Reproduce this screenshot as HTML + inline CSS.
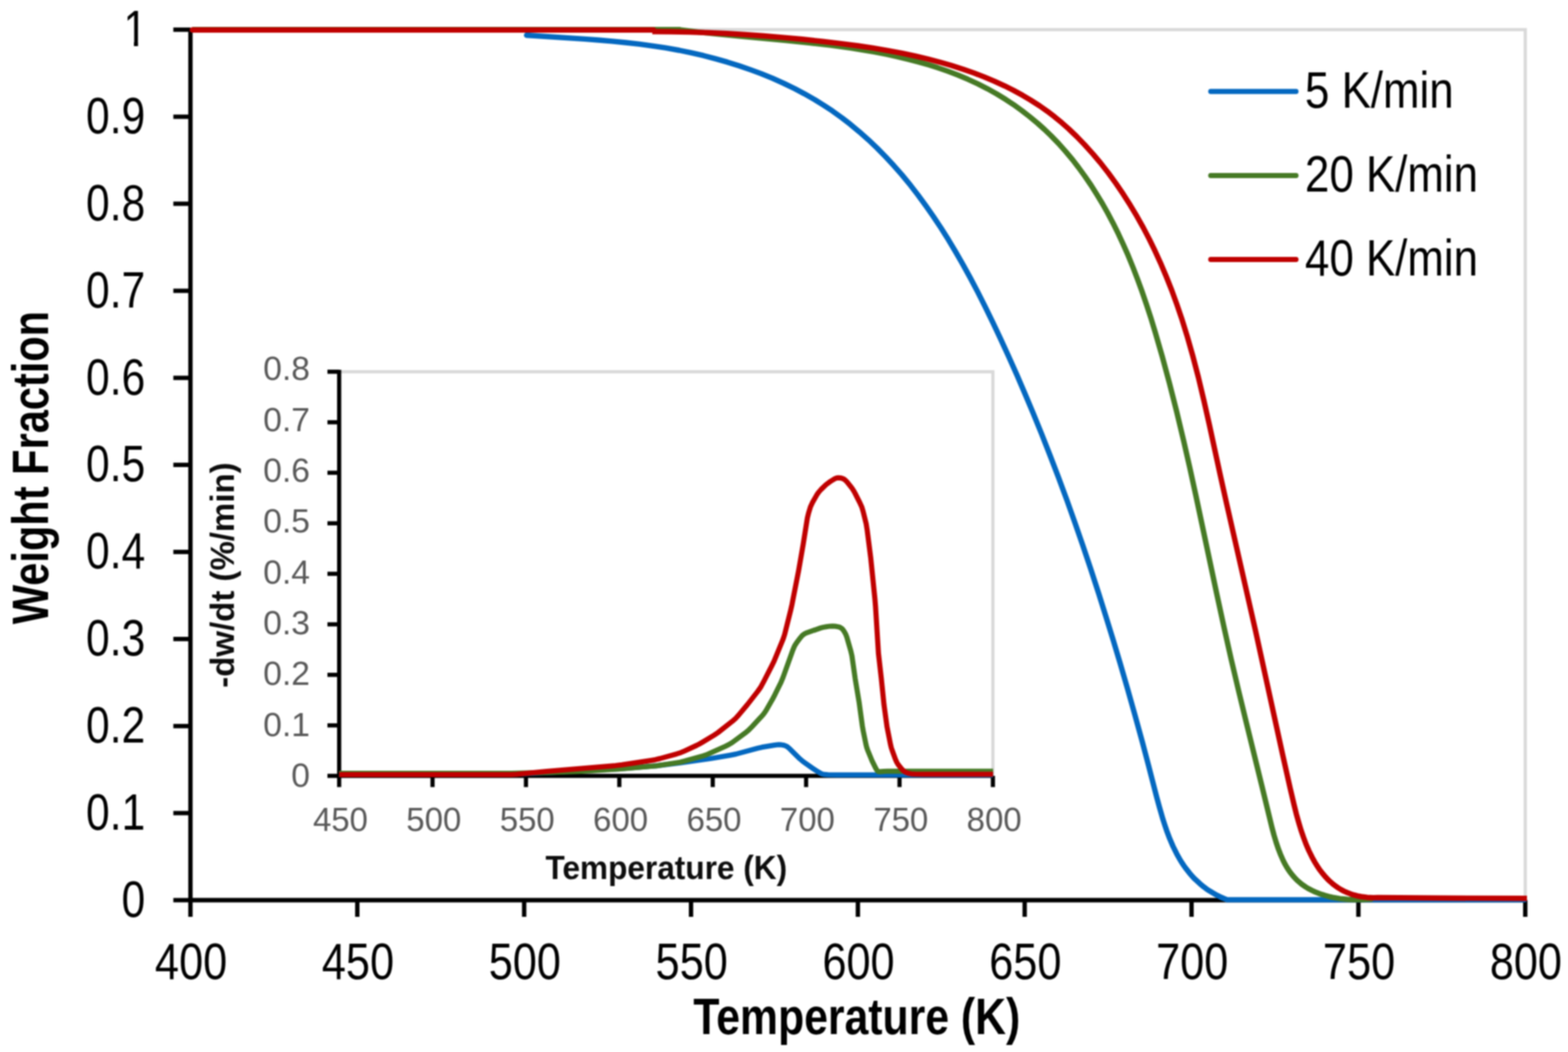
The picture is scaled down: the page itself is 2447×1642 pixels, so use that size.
<!DOCTYPE html>
<html><head><meta charset="utf-8"><title>Weight Fraction vs Temperature</title>
<style>
html,body{margin:0;padding:0;background:#fff;}
body{width:2447px;height:1642px;overflow:hidden;}
svg{display:block;filter:blur(0.8px);}
.m{font-family:"Liberation Sans",Arial,sans-serif;font-size:79px;fill:#000;}
.lg{font-family:"Liberation Sans",Arial,sans-serif;font-size:80.5px;fill:#000;}
.mb{font-family:"Liberation Sans",Arial,sans-serif;font-size:80px;font-weight:bold;fill:#000;}
.i{font-family:"Liberation Sans",Arial,sans-serif;font-size:52.5px;fill:#595959;}
.ib{font-family:"Liberation Sans",Arial,sans-serif;font-size:51px;font-weight:bold;fill:#0d0d0d;}
</style></head>
<body>
<svg xmlns="http://www.w3.org/2000/svg" width="2447" height="1642" viewBox="0 0 2447 1642">
<rect width="2447" height="1642" fill="#fff"/>
<path d="M297.2,46.3 H2380.3 V1405.0" fill="none" stroke="#D9D9D9" stroke-width="5"/>
<path d="M297.2,49.3 V1405.0" stroke="#000" stroke-width="6.8" fill="none"/>
<path d="M294.2,1405.0 H2380.3" stroke="#000" stroke-width="6.8" fill="none"/>
<path d="M270.5,1405.0 H297.2" stroke="#000" stroke-width="6.8"/>
<path d="M270.5,1269.1 H297.2" stroke="#000" stroke-width="6.8"/>
<path d="M270.5,1133.3 H297.2" stroke="#000" stroke-width="6.8"/>
<path d="M270.5,997.4 H297.2" stroke="#000" stroke-width="6.8"/>
<path d="M270.5,861.5 H297.2" stroke="#000" stroke-width="6.8"/>
<path d="M270.5,725.6 H297.2" stroke="#000" stroke-width="6.8"/>
<path d="M270.5,589.8 H297.2" stroke="#000" stroke-width="6.8"/>
<path d="M270.5,453.9 H297.2" stroke="#000" stroke-width="6.8"/>
<path d="M270.5,318.0 H297.2" stroke="#000" stroke-width="6.8"/>
<path d="M270.5,182.2 H297.2" stroke="#000" stroke-width="6.8"/>
<path d="M270.5,46.3 H297.2" stroke="#000" stroke-width="6.8"/>
<path d="M297.2,1405.0 V1431" stroke="#000" stroke-width="6.8"/>
<path d="M557.6,1405.0 V1431" stroke="#000" stroke-width="6.8"/>
<path d="M818.0,1405.0 V1431" stroke="#000" stroke-width="6.8"/>
<path d="M1078.4,1405.0 V1431" stroke="#000" stroke-width="6.8"/>
<path d="M1338.8,1405.0 V1431" stroke="#000" stroke-width="6.8"/>
<path d="M1599.1,1405.0 V1431" stroke="#000" stroke-width="6.8"/>
<path d="M1859.5,1405.0 V1431" stroke="#000" stroke-width="6.8"/>
<path d="M2119.9,1405.0 V1431" stroke="#000" stroke-width="6.8"/>
<path d="M2380.3,1405.0 V1431" stroke="#000" stroke-width="6.8"/>
<text transform="translate(226.6,1430.7) scale(0.84,1)" text-anchor="end" class="m">0</text>
<text transform="translate(226.6,1294.8) scale(0.84,1)" text-anchor="end" class="m">0.1</text>
<text transform="translate(226.6,1159.0) scale(0.84,1)" text-anchor="end" class="m">0.2</text>
<text transform="translate(226.6,1023.1) scale(0.84,1)" text-anchor="end" class="m">0.3</text>
<text transform="translate(226.6,887.2) scale(0.84,1)" text-anchor="end" class="m">0.4</text>
<text transform="translate(226.6,751.4) scale(0.84,1)" text-anchor="end" class="m">0.5</text>
<text transform="translate(226.6,615.5) scale(0.84,1)" text-anchor="end" class="m">0.6</text>
<text transform="translate(226.6,479.6) scale(0.84,1)" text-anchor="end" class="m">0.7</text>
<text transform="translate(226.6,343.7) scale(0.84,1)" text-anchor="end" class="m">0.8</text>
<text transform="translate(226.6,207.9) scale(0.84,1)" text-anchor="end" class="m">0.9</text>
<clipPath id="c1"><rect x="150" y="0" width="100" height="65.4"/><rect x="209.0" y="62.0" width="6.4" height="20"/></clipPath>
<g clip-path="url(#c1)"><text transform="translate(229.6,72.0) scale(0.84,1)" text-anchor="end" class="m">1</text></g>
<text transform="translate(298.2,1528.1) scale(0.855,1)" text-anchor="middle" class="m">400</text>
<text transform="translate(558.6,1528.1) scale(0.855,1)" text-anchor="middle" class="m">450</text>
<text transform="translate(819.0,1528.1) scale(0.855,1)" text-anchor="middle" class="m">500</text>
<text transform="translate(1079.4,1528.1) scale(0.855,1)" text-anchor="middle" class="m">550</text>
<text transform="translate(1339.8,1528.1) scale(0.855,1)" text-anchor="middle" class="m">600</text>
<text transform="translate(1600.1,1528.1) scale(0.855,1)" text-anchor="middle" class="m">650</text>
<text transform="translate(1860.5,1528.1) scale(0.855,1)" text-anchor="middle" class="m">700</text>
<text transform="translate(2120.9,1528.1) scale(0.855,1)" text-anchor="middle" class="m">750</text>
<text transform="translate(2381.3,1528.1) scale(0.855,1)" text-anchor="middle" class="m">800</text>
<text transform="translate(1337.1,1613.5) scale(0.834,1)" text-anchor="middle" class="mb">Temperature (K)</text>
<text transform="translate(75.1,729.8) rotate(-90) scale(0.811,1)" text-anchor="middle" class="mb">Weight Fraction</text>
<path d="M1889.5,142.8 H2022.5" stroke="#0468C0" stroke-width="8" stroke-linecap="round"/>
<text transform="translate(2036.6,167.5) scale(0.85,1)" class="lg">5 K/min</text>
<path d="M1889.5,274.0 H2022.5" stroke="#467A25" stroke-width="8" stroke-linecap="round"/>
<text transform="translate(2036.6,298.5) scale(0.85,1)" class="lg">20 K/min</text>
<path d="M1889.5,405.0 H2022.5" stroke="#C00000" stroke-width="8" stroke-linecap="round"/>
<text transform="translate(2036.6,429.5) scale(0.85,1)" class="lg">40 K/min</text>
<path d="M821.8,55.0 L912.0,60.9 L933.6,62.5 L955.2,64.4 L976.7,66.5 L998.1,68.9 L1019.6,71.8 L1038.4,74.7 L1059.9,78.5 L1078.7,82.4 L1097.6,86.7 L1116.3,91.6 L1135.0,96.9 L1153.6,102.7 L1172.0,109.1 L1187.6,114.9 L1205.5,122.2 L1223.2,130.1 L1240.5,138.5 L1255.0,146.2 L1271.6,155.6 L1285.4,164.2 L1298.9,173.1 L1314.2,184.1 L1326.9,193.9 L1341.3,205.9 L1355.3,218.3 L1368.9,231.2 L1382.0,244.6 L1394.8,258.4 L1407.2,272.5 L1420.9,289.2 L1432.5,304.2 L1445.3,321.7 L1456.2,337.3 L1468.3,355.5 L1480.0,374.1 L1491.3,393.0 L1502.3,412.1 L1514.3,433.9 L1525.9,455.9 L1537.1,478.2 L1549.3,503.1 L1561.1,528.1 L1573.8,555.7 L1587.2,585.8 L1599.1,613.5 L1611.8,643.7 L1625.2,676.5 L1639.1,711.9 L1651.7,744.8 L1664.9,780.4 L1677.6,816.1 L1690.0,851.9 L1702.1,887.9 L1714.7,926.6 L1726.1,962.9 L1737.3,999.3 L1748.3,1036.0 L1759.0,1072.8 L1770.9,1115.1 L1782.6,1157.7 L1791.8,1192.5 L1805.0,1243.7 L1809.4,1259.8 L1814.7,1278.3 L1818.1,1288.7 L1820.7,1296.4 L1825.4,1308.9 L1830.6,1321.0 L1836.4,1332.7 L1840.2,1339.5 L1842.8,1344.0 L1847.0,1350.4 L1850.0,1354.6 L1856.3,1362.7 L1861.3,1368.5 L1864.9,1372.2 L1872.5,1379.2 L1878.5,1384.2 L1882.8,1387.4 L1887.3,1390.4 L1891.9,1393.2 L1899.1,1397.3 L1904.2,1399.8 L1909.5,1402.2 L1915.0,1404.4 L2379.0,1404.3" fill="none" stroke="#0468C0" stroke-width="8.4" stroke-linejoin="round" stroke-linecap="round"/>
<path d="M300.2,46.3 H1062" stroke="#467A25" stroke-width="8.4" fill="none"/>
<path d="M1060.0,46.3 L1088.2,49.8 L1122.1,53.4 L1153.0,56.4 L1226.0,63.1 L1262.5,66.8 L1296.3,70.7 L1327.3,74.9 L1347.0,78.0 L1363.8,80.9 L1383.4,84.7 L1400.2,88.3 L1416.8,92.3 L1433.3,96.6 L1449.6,101.3 L1463.1,105.6 L1479.1,111.1 L1494.9,117.1 L1510.4,123.7 L1525.7,130.7 L1540.8,138.4 L1555.5,146.6 L1569.8,155.4 L1581.6,163.2 L1595.3,173.1 L1606.4,181.7 L1619.4,192.5 L1630.0,202.0 L1640.1,211.8 L1652.0,224.0 L1663.3,236.7 L1674.2,249.8 L1682.9,261.1 L1692.9,274.9 L1702.6,289.0 L1711.7,303.4 L1720.5,318.0 L1728.8,332.8 L1736.7,347.7 L1745.5,365.4 L1752.6,380.7 L1760.6,398.8 L1768.0,417.0 L1775.1,435.4 L1781.9,454.0 L1789.2,475.3 L1796.2,496.8 L1802.8,518.5 L1813.8,556.5 L1824.9,597.6 L1836.1,641.6 L1847.3,688.5 L1856.8,730.1 L1866.5,774.5 L1898.9,927.1 L1910.3,979.6 L1921.4,1029.2 L1933.0,1078.4 L1944.3,1125.0 L1969.4,1227.3 L1985.2,1292.4 L1988.2,1303.6 L1991.5,1314.6 L1995.1,1325.3 L1998.1,1333.1 L2002.5,1343.1 L2004.9,1347.9 L2007.5,1352.5 L2010.3,1357.0 L2013.3,1361.3 L2018.1,1367.4 L2021.6,1371.3 L2025.3,1374.9 L2031.3,1380.0 L2037.8,1384.5 L2042.5,1387.3 L2047.3,1389.8 L2052.3,1392.1 L2057.5,1394.2 L2062.8,1396.1 L2068.3,1397.8 L2073.8,1399.3 L2079.5,1400.6 L2091.0,1402.6 L2102.7,1403.8 L2114.4,1404.4 L2125.9,1404.2 L2131.6,1403.9 L2140.0,1403.2" fill="none" stroke="#467A25" stroke-width="8.4" stroke-linejoin="round" stroke-linecap="round"/>
<path d="M300.2,46.7 H1020" stroke="#C00000" stroke-width="8.4" fill="none" stroke-linecap="round"/>
<path d="M1018.0,49.3 L1047.2,49.5 L1076.3,50.1 L1105.3,51.0 L1134.2,52.3 L1163.0,54.0 L1191.8,56.0 L1220.6,58.4 L1252.3,61.3 L1284.0,64.7 L1313.0,68.1 L1339.0,71.5 L1362.1,74.9 L1385.1,78.8 L1408.1,83.1 L1428.0,87.3 L1447.8,92.0 L1467.5,97.2 L1484.2,102.0 L1503.5,108.2 L1519.8,113.9 L1536.0,120.2 L1552.0,126.9 L1567.8,134.1 L1580.7,140.5 L1595.9,148.8 L1608.2,156.1 L1622.7,165.4 L1634.5,173.7 L1645.9,182.4 L1657.0,191.6 L1667.8,201.1 L1680.3,213.1 L1692.4,225.6 L1706.0,240.7 L1717.2,254.0 L1729.7,270.0 L1741.6,286.4 L1753.0,303.2 L1763.9,320.3 L1774.3,337.7 L1784.2,355.4 L1793.6,373.4 L1802.5,391.7 L1812.1,412.8 L1820.0,431.5 L1828.6,453.1 L1836.5,474.9 L1844.0,496.8 L1852.6,524.4 L1861.3,555.0 L1870.1,588.6 L1878.8,625.3 L1887.1,662.0 L1903.7,738.7 L1913.8,784.2 L1959.5,985.1 L2001.5,1177.2 L2013.2,1229.4 L2019.4,1255.8 L2023.0,1270.3 L2027.0,1284.6 L2030.4,1295.9 L2034.2,1306.9 L2038.2,1317.6 L2042.7,1328.0 L2047.6,1337.9 L2051.5,1345.1 L2055.8,1352.0 L2058.7,1356.4 L2063.5,1362.8 L2066.9,1366.8 L2072.2,1372.6 L2076.0,1376.2 L2079.9,1379.6 L2084.0,1382.8 L2088.3,1385.7 L2092.8,1388.5 L2097.5,1391.0 L2102.4,1393.2 L2107.6,1395.2 L2112.9,1396.9 L2118.5,1398.4 L2124.3,1399.5 L2133.5,1400.7 L2143.2,1401.2 L2150.0,1401.0 L2250.0,1401.8 L2383.0,1402.3" fill="none" stroke="#C00000" stroke-width="8.4" stroke-linejoin="round" stroke-linecap="butt"/>
<path d="M529.3,580.2 H1549.5 V1211.0" fill="none" stroke="#D9D9D9" stroke-width="5"/>
<path d="M529.3,577.2 V1211.0" stroke="#000" stroke-width="6.5" fill="none"/>
<path d="M526.3,1211.0 H1549.5" stroke="#000" stroke-width="6.5" fill="none"/>
<path d="M511,1211.0 H529.3" stroke="#000" stroke-width="6.5"/>
<path d="M511,1132.2 H529.3" stroke="#000" stroke-width="6.5"/>
<path d="M511,1053.3 H529.3" stroke="#000" stroke-width="6.5"/>
<path d="M511,974.5 H529.3" stroke="#000" stroke-width="6.5"/>
<path d="M511,895.6 H529.3" stroke="#000" stroke-width="6.5"/>
<path d="M511,816.8 H529.3" stroke="#000" stroke-width="6.5"/>
<path d="M511,737.9 H529.3" stroke="#000" stroke-width="6.5"/>
<path d="M511,659.1 H529.3" stroke="#000" stroke-width="6.5"/>
<path d="M511,580.2 H529.3" stroke="#000" stroke-width="6.5"/>
<path d="M529.3,1211.0 V1228.5" stroke="#000" stroke-width="6.5"/>
<path d="M675.0,1211.0 V1228.5" stroke="#000" stroke-width="6.5"/>
<path d="M820.8,1211.0 V1228.5" stroke="#000" stroke-width="6.5"/>
<path d="M966.5,1211.0 V1228.5" stroke="#000" stroke-width="6.5"/>
<path d="M1112.3,1211.0 V1228.5" stroke="#000" stroke-width="6.5"/>
<path d="M1258.0,1211.0 V1228.5" stroke="#000" stroke-width="6.5"/>
<path d="M1403.8,1211.0 V1228.5" stroke="#000" stroke-width="6.5"/>
<path d="M1549.5,1211.0 V1228.5" stroke="#000" stroke-width="6.5"/>
<text x="483.7" y="1227.8" text-anchor="end" class="i">0</text>
<text x="483.7" y="1148.5" text-anchor="end" class="i">0.1</text>
<text x="483.7" y="1069.2" text-anchor="end" class="i">0.2</text>
<text x="483.7" y="989.9" text-anchor="end" class="i">0.3</text>
<text x="483.7" y="910.6" text-anchor="end" class="i">0.4</text>
<text x="483.7" y="831.3" text-anchor="end" class="i">0.5</text>
<text x="483.7" y="752.0" text-anchor="end" class="i">0.6</text>
<text x="483.7" y="672.7" text-anchor="end" class="i">0.7</text>
<text x="483.7" y="593.4" text-anchor="end" class="i">0.8</text>
<text transform="translate(531.3,1296.8) scale(0.98,1)" text-anchor="middle" class="i">450</text>
<text transform="translate(677.0,1296.8) scale(0.98,1)" text-anchor="middle" class="i">500</text>
<text transform="translate(822.8,1296.8) scale(0.98,1)" text-anchor="middle" class="i">550</text>
<text transform="translate(968.5,1296.8) scale(0.98,1)" text-anchor="middle" class="i">600</text>
<text transform="translate(1114.3,1296.8) scale(0.98,1)" text-anchor="middle" class="i">650</text>
<text transform="translate(1260.0,1296.8) scale(0.98,1)" text-anchor="middle" class="i">700</text>
<text transform="translate(1405.8,1296.8) scale(0.98,1)" text-anchor="middle" class="i">750</text>
<text transform="translate(1551.5,1296.8) scale(0.98,1)" text-anchor="middle" class="i">800</text>
<text transform="translate(1039.8,1371.5) scale(0.967,1)" text-anchor="middle" class="ib">Temperature (K)</text>
<text transform="translate(365.3,897.6) rotate(-90) scale(0.981,1)" text-anchor="middle" class="ib" style="font-size:52.5px">-dw/dt (%/min)</text>
<path d="M529.3,1209.0 L799.3,1208.4 L898.2,1203.6 L966.1,1199.9 L1024.9,1195.3 L1062.6,1190.5 L1108.1,1184.1 L1139.7,1178.7 L1148.5,1177.0 L1182.3,1167.9 L1189.1,1166.3 L1208.8,1163.0 L1212.8,1162.5 L1215.7,1162.3 L1219.7,1162.6 L1223.5,1163.3 L1226.2,1164.2 L1228.7,1165.6 L1232.5,1168.8 L1248.1,1184.3 L1253.4,1188.8 L1268.1,1199.1 L1277.3,1205.1 L1281.6,1207.5 L1283.4,1208.2 L1286.3,1208.8 L1292.2,1209.3 L1305.2,1209.5 L1549.8,1209.5" fill="none" stroke="#0468C0" stroke-width="8" stroke-linejoin="round" stroke-linecap="butt"/>
<path d="M529.3,1207.0 L798.3,1207.0 L859.3,1205.5 L907.3,1204.1 L966.1,1200.2 L1016.0,1196.1 L1024.9,1195.2 L1053.6,1190.9 L1061.5,1189.6 L1068.3,1187.9 L1096.2,1180.2 L1100.0,1178.9 L1104.6,1177.1 L1132.0,1164.8 L1137.4,1162.2 L1142.5,1159.1 L1162.6,1144.3 L1168.0,1139.9 L1173.6,1134.2 L1187.2,1119.6 L1191.2,1115.1 L1193.0,1112.7 L1195.2,1109.4 L1205.2,1092.1 L1209.4,1084.1 L1218.7,1065.3 L1222.1,1057.0 L1237.3,1014.6 L1239.6,1009.1 L1241.0,1006.5 L1243.2,1003.2 L1249.2,995.2 L1251.7,992.2 L1254.7,989.8 L1258.1,988.0 L1280.7,980.1 L1284.6,979.1 L1289.5,978.2 L1295.4,977.4 L1299.4,977.3 L1303.3,977.5 L1308.2,978.4 L1310.9,979.2 L1313.3,980.6 L1314.6,981.8 L1315.9,983.3 L1318.0,986.6 L1319.9,990.1 L1321.6,994.7 L1327.7,1015.9 L1329.5,1023.6 L1334.6,1059.3 L1340.8,1096.7 L1345.8,1133.4 L1347.2,1141.3 L1351.6,1162.8 L1352.6,1166.7 L1353.9,1170.4 L1360.7,1187.1 L1366.9,1199.6 L1368.3,1202.0 L1369.4,1203.3 L1370.7,1204.2 L1372.9,1204.6 L1379.3,1203.9 L1385.3,1203.7 L1549.8,1203.7" fill="none" stroke="#467A25" stroke-width="8" stroke-linejoin="round" stroke-linecap="butt"/>
<path d="M529.3,1209.0 L798.3,1208.9 L806.3,1208.4 L853.1,1203.9 L960.7,1194.9 L970.6,1193.7 L1017.1,1186.7 L1023.0,1185.7 L1029.8,1184.0 L1055.8,1176.8 L1062.4,1174.7 L1067.9,1172.3 L1087.0,1163.5 L1091.4,1161.2 L1096.6,1158.2 L1114.6,1147.4 L1120.4,1143.5 L1142.4,1126.2 L1148.4,1120.9 L1152.4,1116.5 L1166.5,1099.6 L1182.5,1079.1 L1187.1,1072.6 L1191.4,1064.7 L1204.6,1038.9 L1208.1,1031.7 L1221.4,999.3 L1223.1,994.6 L1224.6,989.9 L1233.8,953.0 L1236.0,943.3 L1246.2,891.2 L1253.4,849.9 L1260.0,808.4 L1261.9,800.6 L1264.8,791.1 L1267.7,784.8 L1274.6,772.6 L1277.4,768.5 L1281.3,764.0 L1289.2,756.4 L1294.8,752.2 L1299.8,749.0 L1303.2,747.1 L1305.9,746.1 L1308.6,745.8 L1311.5,746.0 L1314.3,746.7 L1316.9,747.8 L1319.2,749.5 L1321.9,752.3 L1326.9,758.5 L1329.9,762.4 L1332.1,765.8 L1334.5,770.1 L1341.7,784.4 L1345.0,791.7 L1347.0,798.4 L1351.8,817.8 L1353.2,826.6 L1358.9,871.3 L1365.3,934.0 L1366.3,945.9 L1370.9,1019.8 L1375.3,1058.5 L1379.6,1100.3 L1384.2,1134.0 L1389.8,1162.4 L1391.0,1167.3 L1392.6,1172.0 L1397.4,1185.1 L1399.4,1189.7 L1401.4,1193.0 L1403.8,1196.2 L1407.7,1200.8 L1410.5,1203.5 L1412.9,1205.1 L1415.5,1206.2 L1418.3,1207.1 L1422.2,1207.9 L1428.2,1208.3 L1442.2,1208.6 L1549.8,1208.6" fill="none" stroke="#C00000" stroke-width="8" stroke-linejoin="round" stroke-linecap="butt"/>
</svg>
</body></html>
